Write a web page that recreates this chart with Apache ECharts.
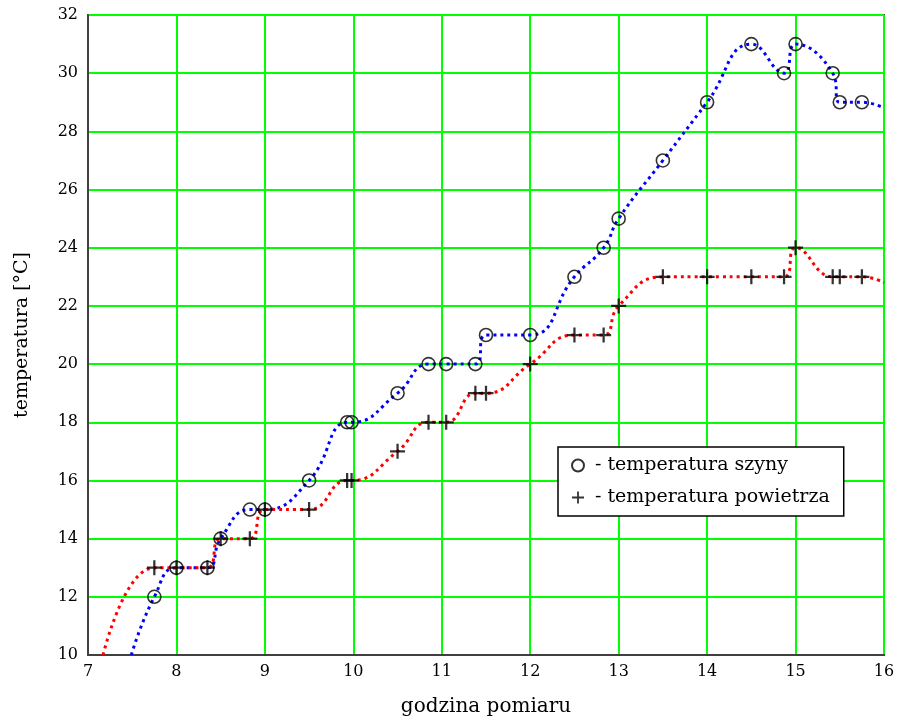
<!DOCTYPE html>
<html>
<head>
<meta charset="utf-8">
<title>temperatura szyny i powietrza</title>
<script src="https://cdn.jsdelivr.net/npm/echarts@6/dist/echarts.min.js"></script>
<style>
  html, body { margin: 0; padding: 0; background: #fff; }
  #chart { width: 897px; height: 720px; }
</style>
</head>
<body>
<div id="chart"></div>
<script>
// godzina pomiaru [h]
const hours = [7.75, 8.0, 8.35, 8.5, 8.83, 9.0, 9.5, 9.93, 9.98, 10.5, 10.85, 11.05, 11.38, 11.5,
  12.0, 12.5, 12.83, 13.0, 13.5, 14.0, 14.5, 14.87, 15.0, 15.42, 15.5, 15.75];
// temperatura szyny [°C]
const railTemp = [12, 13, 13, 14, 15, 15, 16, 18, 18, 19, 20, 20, 20, 21,
  21, 23, 24, 25, 27, 29, 31, 30, 31, 30, 29, 29];
// temperatura powietrza [°C]
const airTemp = [13, 13, 13, 14, 14, 15, 15, 16, 16, 17, 18, 18, 19, 19,
  20, 21, 21, 22, 23, 23, 23, 23, 24, 23, 23, 23];

// where the interpolated curves leave the plot area
const railCurveStart = [7.49, 10];
const railCurveEnd = [16, 28.8];
const airCurveStart = [7.17, 10];
const airCurveEnd = [16, 22.8];

// axis ranges: min, max, step
const xRange = [7, 16, 1];
const yRange = [10, 32, 2];

const railPoints = hours.map((h, i) => [h, railTemp[i]]);
const airPoints = hours.map((h, i) => [h, airTemp[i]]);

const FONT = "DejaVu Serif";
const PLUS = "path://M6.8,0H9.2V16H6.8Z M0,6.8H16V9.2H0Z";

const chart = echarts.init(document.getElementById("chart"), null, { renderer: "canvas" });

const axisCommon = {
  type: "value",
  axisLine: { show: true, lineStyle: { color: "#404040", width: 2 } },
  axisTick: { show: false },
  splitLine: { show: true, lineStyle: { color: "#00ff00", width: 2 } },
  axisLabel: { color: "#000", fontFamily: FONT, fontSize: 16 },
  nameTextStyle: { color: "#000", fontFamily: FONT },
};

const options = {
  animation: false,
  backgroundColor: "#fff",
  grid: {
    left: 88,
    top: 15,
    right: 13,
    bottom: 65,
    outerBoundsMode: "none",
    show: true,
    borderColor: "#404040",
    borderWidth: 2,
  },
  xAxis: {
    ...axisCommon,
    min: xRange[0],
    max: xRange[1],
    interval: xRange[2],
    name: "godzina pomiaru",
    nameLocation: "middle",
    nameGap: 42,
    nameTextStyle: { ...axisCommon.nameTextStyle, fontSize: 20 },
    axisLabel: { ...axisCommon.axisLabel, margin: 9 },
  },
  yAxis: {
    ...axisCommon,
    min: yRange[0],
    max: yRange[1],
    interval: yRange[2],
    name: "temperatura [°C]",
    nameLocation: "middle",
    nameGap: 56,
    nameTextStyle: { ...axisCommon.nameTextStyle, fontSize: 19 },
    axisLabel: { ...axisCommon.axisLabel, margin: 10 },
  },
  legend: {
    orient: "vertical",
    left: 558,
    top: 447,
    padding: [9, 14, 9, 13],
    borderColor: "#000",
    borderWidth: 1.5,
    backgroundColor: "#fff",
    itemWidth: 12,
    itemHeight: 12,
    itemGap: 13,
    selectedMode: false,
    data: ["temperatura szyny", "temperatura powietrza"],
    formatter: "- {name}",
    textStyle: { color: "#000", fontFamily: FONT, fontSize: 19, padding: [0, 0, 0, 6] },
  },
  series: [
    {
      type: "line",
      data: [railCurveStart, ...railPoints, railCurveEnd],
      smooth: true,
      symbol: "none",
      clip: true,
      lineStyle: { color: "#0000ff", width: 3, type: [3, 4] },
      z: 3,
    },
    {
      type: "line",
      data: [airCurveStart, ...airPoints, airCurveEnd],
      smooth: true,
      symbol: "none",
      clip: true,
      lineStyle: { color: "#ff0000", width: 3, type: [3, 4] },
      z: 3,
    },
    {
      name: "temperatura szyny",
      type: "scatter",
      data: railPoints,
      symbol: "circle",
      symbolSize: 13,
      itemStyle: { color: "transparent", borderColor: "#000", borderWidth: 1.6 },
      z: 4,
    },
    {
      name: "temperatura powietrza",
      type: "scatter",
      data: airPoints,
      symbol: PLUS,
      symbolSize: 15,
      itemStyle: { color: "#000" },
      z: 4,
    },
  ],
};

chart.setOption(options);
</script>
</body>
</html>
